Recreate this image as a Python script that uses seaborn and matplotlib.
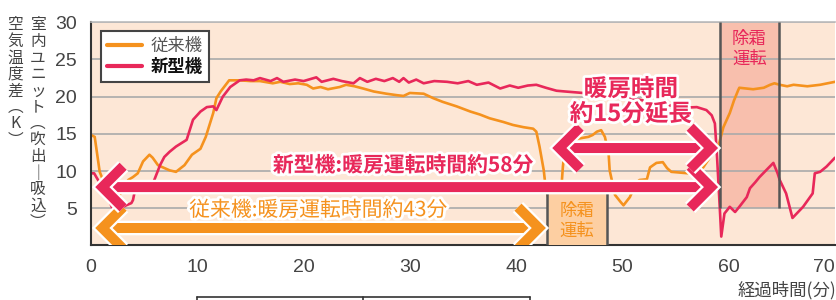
import matplotlib
matplotlib.use('Agg')
import matplotlib.pyplot as plt
import matplotlib.patheffects as pe
from matplotlib.lines import Line2D
from matplotlib.patches import FancyArrowPatch
import pandas as pd
import seaborn as sns

# 従来機 (conventional unit)
conv_time = [0, 0.35, 0.82, 1.5, 2.1, 2.4, 2.7, 3.5, 3.95, 4.4, 4.9, 5.5, 5.8, 6.3, 6.6, 7.4, 8.0, 8.8,
             9.5, 10.3, 10.8, 11.5, 11.8, 12.2, 13.0, 14.0, 15.0, 15.9, 17.1, 17.8, 18.7, 19.5, 20.3,
             20.9, 21.6, 22.3, 23.4, 24.0, 24.8, 25.6, 26.6, 27.8, 28.8, 29.4, 30.0, 31.3, 32.2, 33.1,
             34.4, 35.7, 36.6, 37.5, 38.8, 39.7, 40.7, 41.6, 41.9, 42.2, 42.6, 42.8, 43.2, 43.9, 44.3,
             44.4, 44.6, 44.9, 45.5, 46.0, 46.8, 47.2, 47.6, 48.0, 48.35, 48.7, 48.8, 49.0, 49.3, 49.8,
             50.1, 50.7, 51.3, 51.6, 52.3, 52.6, 53.2, 53.8, 54.2, 54.6, 55.4, 56.2, 56.6, 57.6, 58.5,
             59.0, 59.5, 60.1, 60.5, 60.9, 61.0, 62.3, 63.3, 63.9, 64.3, 64.8, 65.5, 66.1, 67.4, 68.6, 70.0]
conv_diff = [14.85, 14.6, 9.9, 7.5, 6.0, 5.7, 6.8, 8.8, 9.2, 9.7, 11.3, 12.2, 11.8, 10.8, 10.6, 10.1, 9.9, 10.8,
             12.2, 13.0, 14.6, 17.8, 19.8, 20.7, 22.2, 22.2, 22.1, 22.1, 21.8, 22.0, 21.7, 21.8, 21.6,
             21.1, 21.3, 21.0, 21.3, 21.6, 21.4, 21.1, 20.7, 20.4, 20.2, 20.1, 20.5, 20.4, 19.8, 19.3,
             18.7, 18.0, 17.6, 17.1, 16.6, 16.2, 15.9, 15.7, 15.3, 13.3, 10.1, 7.5, 5.6, 6.0, 8.6,
             10.6, 13.3, 14.2, 14.3, 14.4, 14.6, 14.85, 15.3, 15.5, 14.6, 12.4, 10.1, 8.8, 6.8, 5.9,
             5.4, 6.5, 8.4, 8.8, 8.9, 10.5, 11.1, 11.2, 10.4, 9.9, 9.8, 9.7, 9.7, 10.5, 12.4,
             13.2, 15.9, 17.8, 19.5, 20.9, 21.2, 21.0, 21.2, 21.6, 21.8, 21.6, 21.4, 21.6, 21.4, 21.6, 22.0]

# 新型機 (new unit)
new_time = [0, 0.3, 0.5, 1.0, 1.75, 2.07, 2.4, 3.0, 3.8, 3.95, 4.15, 5.0, 5.9, 6.5, 6.9, 7.4, 8.0, 9.0,
            9.6, 10.3, 10.9, 11.5, 11.8, 12.4, 13.1, 14.0, 14.6, 15.3, 15.9, 16.9, 17.5, 18.1, 19.2,
            20.0, 21.2, 21.7, 22.8, 23.6, 24.7, 25.3, 26.0, 26.8, 27.6, 28.4, 29.0, 29.4, 29.9, 30.6,
            31.3, 32.3, 33.5, 34.5, 35.5, 36.3, 37.4, 38.5, 39.4, 40.2, 41.1, 41.9, 42.8, 43.8, 44.6,
            46.3, 48.0, 49.5, 50.7, 51.6, 52.6, 54.0, 55.4, 57.0, 57.9, 58.4, 58.7, 58.9, 59.2, 59.3,
            59.6, 60.1, 60.6, 61.0, 61.7, 62.0, 62.5, 62.9, 64.2, 64.6, 64.8, 65.4, 66.0, 67.0, 67.9,
            68.1, 68.6, 69.2, 70.0]
new_diff = [9.7, 9.7, 9.2, 8.0, 5.9, 4.8, 5.0, 5.2, 5.7, 6.1, 7.5, 8.0, 8.6, 10.8, 11.9, 12.6, 13.3, 14.2,
            16.9, 18.0, 18.6, 18.7, 18.2, 20.0, 21.3, 22.2, 22.3, 22.2, 22.5, 22.1, 22.5, 22.0, 22.3,
            22.1, 22.6, 22.0, 22.4, 22.1, 21.8, 22.5, 22.0, 22.4, 22.1, 22.5, 22.0, 22.5, 21.9, 22.3,
            21.8, 22.1, 22.0, 21.8, 22.1, 21.6, 21.9, 21.1, 21.5, 21.2, 21.5, 21.6, 21.2, 20.8, 20.7,
            20.5, 20.3, 20.0, 19.8, 19.6, 19.3, 19.0, 18.5, 18.6, 18.2, 17.5, 16.4, 12.0, 4.0, 1.2,
            4.3, 5.2, 4.5, 5.2, 6.5, 7.7, 8.5, 9.2, 11.1, 9.7, 8.8, 7.0, 3.7, 5.2, 7.0,
            9.7, 9.9, 10.6, 11.8]

models = ['従来機', '新型機']
conv_defrost = (42.93, 48.54)
new_defrost = (59.17, 64.72)

ORANGE = '#f5921e'
PINK = '#e8285a'
BG = '#fde7d6'
GREY = '#444444'

sns.set_theme(style='white')
plt.rcParams['font.family'] = ['Noto Sans CJK JP', 'DejaVu Sans']

df = pd.concat([
    pd.DataFrame({'time': conv_time, 'diff': conv_diff, 'model': models[0]}),
    pd.DataFrame({'time': new_time, 'diff': new_diff, 'model': models[1]}),
])

fig = plt.figure(figsize=(8.37, 3.0), dpi=100)
ax = fig.add_axes([0.1087, 0.1817, 0.8889, 0.744])
ax.set_facecolor(BG)

sns.lineplot(data=df, x='time', y='diff', hue='model', hue_order=models,
             palette={models[0]: ORANGE, models[1]: PINK},
             estimator=None, sort=False, lw=1.9, ax=ax, zorder=2.5)

# defrost periods
ax.axvspan(*new_defrost, ymin=5 / 30, ymax=1, color='#f8bfad', lw=0, zorder=0.3)
ax.vlines(new_defrost, 5, 30, color='#555555', lw=1.8, zorder=3)
ax.axvspan(*conv_defrost, ymin=0, ymax=7 / 30, color='#fdcfa2', lw=0, zorder=3)
ax.vlines(conv_defrost, 0, 7, color='#555555', lw=1.8, zorder=3.1)
ax.text(sum(conv_defrost) / 2, 3.3, '除霜\n運転', color=ORANGE, fontsize=12.5,
        ha='center', va='center', linespacing=1.1, zorder=3.2)
ax.text(sum(new_defrost) / 2, 26.4, '除霜\n運転', color=PINK, fontsize=12.5,
        ha='center', va='center', linespacing=1.1, zorder=3.2)


def arrow(x0, x1, y, color):
    a = FancyArrowPatch((x0, y), (x1, y), arrowstyle='<->,head_length=0.75,head_width=0.75',
                        mutation_scale=20, lw=7.2, color=color, shrinkA=0, shrinkB=0,
                        joinstyle='miter', capstyle='butt', zorder=4)
    a.set_path_effects([pe.Stroke(linewidth=10.5, foreground='white', joinstyle='miter'), pe.Normal()])
    ax.add_patch(a)


white = [pe.withStroke(linewidth=4, foreground='white')]
arrow(0.4, 42.8, 2.35, ORANGE)
arrow(0.4, 59.0, 7.85, PINK)
arrow(43.4, 59.0, 13.1, PINK)
ax.text(29.4, 10.8, '新型機:暖房運転時間約58分', color=PINK, fontsize=15, fontweight='bold',
        ha='center', va='center', path_effects=white, zorder=5)
ax.text(21.4, 4.75, '従来機:暖房運転時間約43分', color=ORANGE, fontsize=15,
        ha='center', va='center', path_effects=white, zorder=5)
ax.text(50.8, 19.35, '暖房時間\n約15分延長', color=PINK, fontsize=17, fontweight='bold',
        ha='center', va='center', linespacing=1.05, path_effects=white, zorder=5)

# axes styling
ax.set_xlim(0, 70)
ax.set_ylim(0, 30)
ax.set_xticks(range(0, 71, 10))
ax.set_xticks(range(5, 70, 10), minor=True)
ax.set_yticks(range(5, 31, 5))
ax.yaxis.grid(True, color='#aaaaaa', lw=1.2)
ax.set_axisbelow(True)
ax.tick_params(axis='x', which='major', direction='inout', length=8, width=1.2, color=GREY,
               pad=6, labelsize=14, labelcolor=GREY)
ax.tick_params(axis='x', which='minor', direction='in', length=4, width=1, color=GREY)
ax.tick_params(axis='y', length=0, pad=10, labelsize=14, labelcolor=GREY)
for lbl in ax.get_xticklabels() + ax.get_yticklabels():
    lbl.set_fontfamily('Liberation Sans')
ax.get_xticklabels()[-1].set_horizontalalignment('right')
ax.spines['right'].set_visible(False)
ax.spines['top'].set_color('#bbbbbb')
ax.spines['top'].set_linewidth(1.2)
for s in ['left', 'bottom']:
    ax.spines[s].set_color('#333333')
    ax.spines[s].set_linewidth(1.5)
ax.set_xlabel('')
ax.set_ylabel('')

handles, labels = ax.get_legend_handles_labels()
for h in handles:
    h.set_linewidth(3)
leg = ax.legend(handles, labels, loc='upper left', bbox_to_anchor=(0.0134, 0.96),
                borderaxespad=0, fontsize=12.5, frameon=True, fancybox=False,
                handlelength=2.0, handletextpad=0.5, labelspacing=0.15,
                borderpad=0.35, framealpha=1)
leg.get_frame().set_edgecolor(GREY)
leg.get_frame().set_linewidth(1.5)
leg.set_zorder(6)
leg.get_texts()[0].set_color('#555555')
leg.get_texts()[1].set_color('#111111')
leg.get_texts()[1].set_fontweight('bold')

# axis titles
fig.text(0.0454, 0.945, '\n'.join('室内ユニット︵吹出｜吸込︶'), fontsize=11.3, color=GREY,
         ha='center', va='top', linespacing=0.96)
fig.text(0.018, 0.945, '\n'.join('空気温度差︵K︶'), fontsize=11.3, color=GREY,
         ha='center', va='top', linespacing=0.96)
fig.text(0.9988, 0.033, '経過時間(分)', fontsize=12.5, color=GREY, ha='right', va='center')

# top edge of the table below the chart (cut off in the original)
y_tab = 1 - 296.5 / 300
fig.add_artist(Line2D([197 / 837, 530 / 837], [y_tab, y_tab], color='#333333', lw=1.2))
for xp in [197, 363, 530]:
    fig.add_artist(Line2D([xp / 837, xp / 837], [0, y_tab], color='#333333', lw=1.2))

fig.savefig('out.png', dpi=100)
